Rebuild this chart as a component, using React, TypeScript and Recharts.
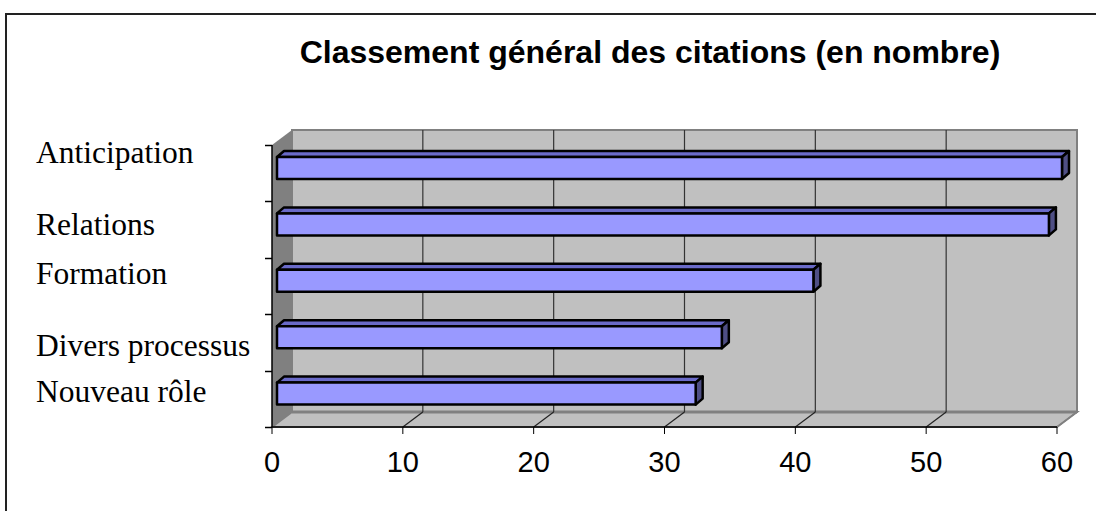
import React from 'react';
import {
  BarChart,
  Bar,
  XAxis,
  YAxis,
  CartesianGrid
} from 'recharts';

const categories = ['Anticipation', 'Relations', 'Formation', 'Divers processus', 'Nouveau rôle'];
const citations = [60, 59, 41, 34, 32];
const xTicks = [0, 10, 20, 30, 40, 50, 60];

const chartData = categories.map((name, i) => ({ name, value: citations[i] }));

// 3D look: back wall offset and bar depth
const DEPTH_X = 20;
const DEPTH_Y = -15;
const BAR_DX = 5;
const BAR_DY = -5;
const BAR_DEPTH_X = 7;
const BAR_DEPTH_Y = -6;

const MARGIN = { top: 145, right: 39, bottom: 24, left: 0 };
const PLOT_H = 511 - MARGIN.top - 84;
const BAND = PLOT_H / categories.length;
// label nudges to follow the original's uneven text placement
const LABEL_NUDGE = [-21, -5, -13, 3, -7];

// walls + floor, drawn with the first grid line so they sit under everything
const Walls = ({ x, y, width, height }: any) => {
  const b = y + height;
  return (
    <g>
      <polygon
        points={`${x},${y} ${x + DEPTH_X},${y + DEPTH_Y} ${x + DEPTH_X},${b + DEPTH_Y} ${x},${b}`}
        fill="#808080"
      />
      <rect
        x={x + DEPTH_X}
        y={y + DEPTH_Y}
        width={width}
        height={height}
        fill="#c0c0c0"
        stroke="#808080"
        strokeWidth={2}
      />
      <polygon
        points={`${x},${b} ${x + width},${b} ${x + width + DEPTH_X},${b + DEPTH_Y} ${x + DEPTH_X},${b + DEPTH_Y}`}
        fill="#c0c0c0"
        stroke="#808080"
        strokeWidth={2}
      />
      <line x1={x + DEPTH_X} y1={b + DEPTH_Y} x2={x + width + DEPTH_X} y2={b + DEPTH_Y} stroke="#808080" strokeWidth={3} />
    </g>
  );
};

const GridLine = (p: any) => {
  const { x1, y1, y2, index } = p;
  const isEdge = index === 0 || index === xTicks.length - 1;
  return (
    <g key={p.key}>
      {index === 0 && p.width != null && (
        <Walls x={p.x} y={p.y} width={p.width} height={p.height} />
      )}
      {!isEdge && (
        <line x1={x1 + DEPTH_X} y1={y1 + DEPTH_Y} x2={x1 + DEPTH_X} y2={y2 + DEPTH_Y} stroke="#333" strokeWidth={1.2} />
      )}
      {index !== 0 && (
        <line x1={x1} y1={y2} x2={x1 + DEPTH_X} y2={y2 + DEPTH_Y} stroke={isEdge ? '#808080' : '#222'} strokeWidth={1.2} />
      )}
    </g>
  );
};

const Bar3D = (props: any) => {
  const { x, y, width, height } = props;
  if (width <= 0) return null;
  const fx = x + BAR_DX;
  const fy = y + BAR_DY;
  const r = fx + width;
  const b = fy + height;
  return (
    <g stroke="#000" strokeWidth={2.5} strokeLinejoin="round">
      <polygon
        points={`${fx},${fy} ${fx + BAR_DEPTH_X},${fy + BAR_DEPTH_Y} ${r + BAR_DEPTH_X},${fy + BAR_DEPTH_Y} ${r},${fy}`}
        fill="#6a6ac8"
      />
      <polygon
        points={`${r},${fy} ${r + BAR_DEPTH_X},${fy + BAR_DEPTH_Y} ${r + BAR_DEPTH_X},${b + BAR_DEPTH_Y} ${r},${b}`}
        fill="#4f4f85"
      />
      <rect x={fx} y={fy} width={width} height={height} fill="#9999ff" />
    </g>
  );
};

const CategoryTick = (props: any) => {
  const { y, payload, index } = props;
  const axisX = 272;
  const top = Math.round(y - BAND / 2) + 0.5;
  const bottom = Math.round(y + BAND / 2) + 0.5;
  return (
    <g>
      <line x1={axisX - 7} y1={top} x2={axisX} y2={top} stroke="#000" strokeWidth={1.5} />
      {index === categories.length - 1 && (
        <line x1={axisX - 7} y1={bottom} x2={axisX} y2={bottom} stroke="#000" strokeWidth={1.5} />
      )}
      <text
        x={36}
        y={y + (LABEL_NUDGE[index] || 0)}
        textAnchor="start"
        dominantBaseline="central"
        fontFamily="'Liberation Serif', 'Times New Roman', serif"
        fontSize={31.5}
        fill="#000"
      >
        {payload.value}
      </text>
    </g>
  );
};

const ValueTick = (props: any) => {
  const { x, y, payload } = props;
  return (
    <text
      x={x}
      y={y + 26}
      textAnchor="middle"
      dominantBaseline="central"
      fontFamily="'Liberation Sans', Arial, sans-serif"
      fontSize={29}
      fill="#000"
    >
      {payload.value}
    </text>
  );
};

const App: React.FC = () => {
  return (
    <div style={{ position: 'absolute', left: 0, top: 0, width: 1096, height: 511, background: '#fff', overflow: 'hidden' }}>
      <div
        style={{
          position: 'absolute',
          left: 5,
          top: 13,
          width: 1200,
          height: 600,
          borderLeft: '2px solid #222',
          borderTop: '2px solid #222'
        }}
      />
      <div
        style={{
          position: 'absolute',
          left: 150,
          top: 33,
          width: 1000,
          textAlign: 'center',
          fontFamily: "'Liberation Sans', Arial, sans-serif",
          fontWeight: 'bold',
          fontSize: 32,
          lineHeight: '38px',
          color: '#000'
        }}
      >
        Classement général des citations (en nombre)
      </div>
      <div style={{ position: 'absolute', left: 0, top: 0 }}>
        <BarChart width={1096} height={511} data={chartData} layout="vertical" margin={MARGIN} barSize={22}>
          <CartesianGrid horizontal={false} vertical={GridLine} />
          <XAxis
            type="number"
            domain={[0, 60]}
            ticks={xTicks}
            interval={0}
            height={60}
            axisLine={{ stroke: '#000', strokeWidth: 1.5 }}
            tickLine={{ stroke: '#000' }}
            tickSize={7}
            tick={<ValueTick />}
          />
          <YAxis
            type="category"
            dataKey="name"
            width={272}
            axisLine={{ stroke: '#000', strokeWidth: 1.5 }}
            tickLine={false}
            tick={<CategoryTick />}
          />
          <Bar dataKey="value" isAnimationActive={false} shape={<Bar3D />} />
        </BarChart>
      </div>
    </div>
  );
};

export default App;
